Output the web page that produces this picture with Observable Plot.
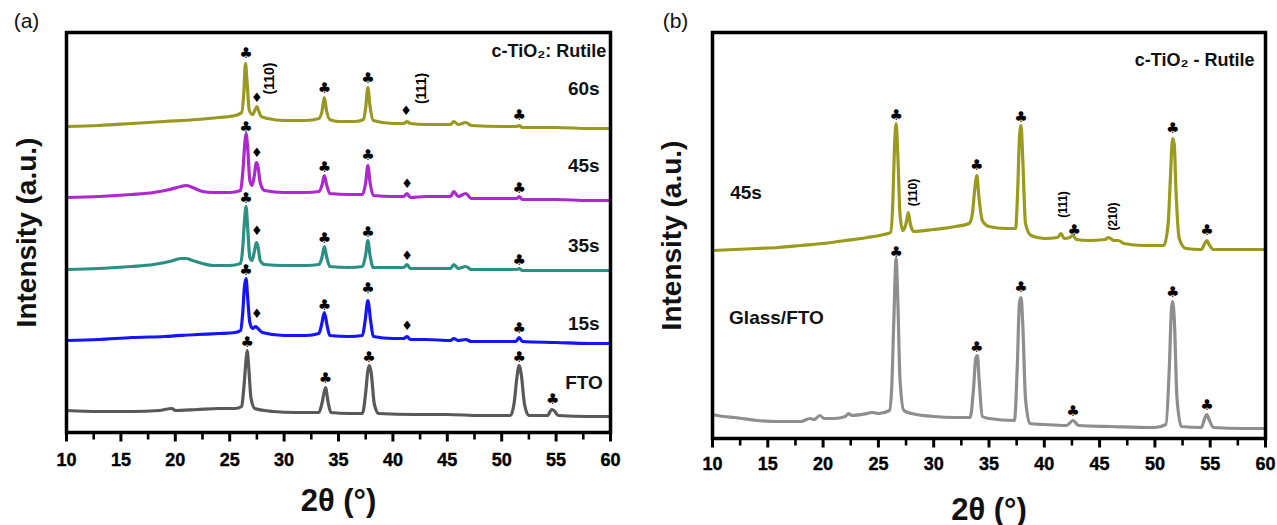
<!DOCTYPE html>
<html><head><meta charset="utf-8">
<script src="https://cdn.jsdelivr.net/npm/d3@7"></script>
<script src="https://cdn.jsdelivr.net/npm/@observablehq/plot@0.6"></script>
<style>
body{margin:0;background:#fff;}
#wrap{position:relative;width:1277px;height:525px;background:#fff;}
.panel{position:absolute;top:0;}
</style></head><body>
<div id="wrap"><div class="panel" id="pa" style="left:0px"></div><div class="panel" id="pb" style="left:640px"></div></div>
<script>
// ---------- Panel (a) data: [2θ, intensity (a.u., stacked)] ----------
const a60 = [[10,306],[13,307],[16,309],[19,311],[22,313],[24,315],[25.5,317],[26.1,320],[26.3,340],[26.45,369],[26.6,350],[26.8,322],[27.1,318],[27.35,323],[27.5,326],[27.65,322],[27.9,316],[28.5,314],[30,312],[32,312],[33.2,314],[33.5,322],[33.7,335],[33.9,322],[34.2,313],[35,311],[36.5,311],[37.3,313],[37.5,325],[37.7,345],[37.9,326],[38.2,312],[40,309],[41.0,309],[41.3,311],[41.6,309],[43,308],[45.3,308],[45.6,311],[46,308],[46.7,310],[47.2,307],[50,306],[51.4,306],[51.6,307],[51.9,305],[55,305],[58,304],[60,304]];
const a45 = [[10,235],[13,236],[16,238],[18,240],[19.5,243],[20.5,246],[21,247],[21.6,245],[22.5,241],[23.5,240],[25,240],[26.0,242],[26.2,260],[26.4,290],[26.5,299],[26.65,285],[26.85,252],[27.05,247],[27.25,256],[27.45,270],[27.6,266],[27.8,250],[28.2,242],[30,240],[32,240],[33.2,241],[33.5,248],[33.7,257],[33.9,248],[34.2,239],[36,238],[37.2,238],[37.5,250],[37.7,267],[37.9,250],[38.2,237],[40,236],[41.0,236],[41.3,239],[41.6,235],[43,236],[45.3,236],[45.6,241],[46.0,236],[46.7,239],[47.2,234],[50,234],[51.4,234],[51.6,236],[51.9,233],[55,233],[58,232],[60,232]];
const a35 = [[10,163],[13,164],[16,166],[18,168],[19.5,171],[20.5,174],[21,174],[21.6,172],[22.5,169],[23.5,167],[25,167],[26.0,169],[26.2,185],[26.35,210],[26.5,226],[26.65,205],[26.85,175],[27.05,172],[27.25,180],[27.45,190],[27.6,186],[27.8,172],[28.2,168],[30,167],[32,167],[33.2,168],[33.5,176],[33.7,186],[33.9,176],[34.2,166],[36,165],[37.2,166],[37.5,178],[37.7,192],[37.9,177],[38.2,165],[40,165],[41.0,165],[41.3,168],[41.6,164],[43,164],[45.3,164],[45.6,168],[46.0,164],[46.7,166],[47.2,163],[50,163],[51.4,163],[51.6,164],[51.9,162],[55,162],[58,162],[60,162]];
const a15 = [[10,92],[13,93],[16,95],[19,96],[22,98],[24,99],[25.5,100],[26.0,102],[26.2,120],[26.35,145],[26.5,154],[26.65,135],[26.85,110],[27.1,104],[27.4,106],[27.6,104],[28,100],[30,97],[32,97],[33.2,99],[33.45,108],[33.7,120],[33.95,107],[34.2,97],[36,96],[37.2,97],[37.45,112],[37.7,132],[37.95,112],[38.2,96],[40,94],[41.0,94],[41.3,96],[41.6,93],[43,93],[45.3,92],[45.6,94],[46,92],[46.7,93],[47.2,91],[50,91],[51.3,91],[51.6,95],[51.9,91],[55,90],[58,89],[60,89]];
const aFTO = [[10,22],[13,21],[16,21],[18.5,22],[19.7,24],[20,22],[22,23],[24,24],[25.5,24],[26.1,26],[26.3,45],[26.5,72],[26.6,82],[26.75,65],[26.95,35],[27.3,24],[29,21],[31,20],[33.2,20],[33.5,30],[33.8,45],[34.05,30],[34.3,20],[36,19],[37.2,19],[37.5,40],[37.7,62],[37.85,67],[38.0,60],[38.3,28],[38.7,19],[42,18],[45,18],[48,17],[50.8,17],[51.15,30],[51.4,55],[51.6,67],[51.8,58],[52.1,28],[52.5,17],[54.2,17],[54.6,23],[54.8,22],[55.2,17],[58,16],[60,16]];
const clubsA = [[26.5,379],[33.7,344],[37.7,354],[51.6,317],[26.5,305],[33.7,265],[37.7,277],[51.6,244],[26.5,234],[33.7,194],[37.7,200],[51.6,172],[26.5,162],[33.7,127],[37.7,144],[51.6,104],[26.6,90],[33.8,54],[37.8,75],[51.6,75],[54.7,33]];
const diamondsA = [[27.5,335],[41.2,322],[27.5,280],[41.3,249],[27.5,202],[41.3,177],[27.5,119],[41.3,107]];
const hklA = [[28.7,354,"(110)"],[42.6,344,"(111)"]];
const sampleLabelsA = [[59,344,"60s"],[59,267,"45s"],[59,187,"35s"],[59,109,"15s"],[59.3,50,"FTO"]];
const titleA = [[59.6,381,"c-TiO₂: Rutile"]];

// ---------- Panel (b) data ----------
const b45 = [[10,188],[12,189],[14,190],[16,191],[18,193],[20,195],[22,198],[24,201],[25.5,204],[26.1,206],[26.3,235],[26.45,290],[26.6,315],[26.75,285],[26.95,225],[27.2,208],[27.5,215],[27.7,226],[27.9,214],[28.2,207],[30,209],[32,212],[33.2,215],[33.5,225],[33.7,248],[33.9,263],[34.1,240],[34.4,218],[35,212],[36.5,210],[37.4,210],[37.6,250],[37.75,300],[37.9,313],[38.05,280],[38.3,215],[38.8,203],[40,200],[41.2,201],[41.5,205],[41.8,200],[42.3,201],[42.6,203],[42.9,199],[44,198],[45.5,199],[45.8,201],[46.3,198],[46.7,198],[47.2,195],[49,193],[50.8,193],[51.2,215],[51.4,260],[51.6,300],[51.75,294],[51.9,250],[52.2,200],[52.8,190],[54.2,189],[54.5,195],[54.7,198],[54.9,194],[55.3,189],[58,189],[60,189]];
const bFTO = [[10,24],[11,22],[12,21],[14,18],[16,17],[18,17],[18.8,20],[19.2,19],[19.7,23],[20.1,20],[21,20],[22,22],[22.3,25],[22.6,23],[23.5,24],[24.5,26],[25,25],[26,28],[26.2,50],[26.4,120],[26.6,180],[26.75,140],[26.95,60],[27.3,28],[28,25],[30,22],[32,21],[33.3,21],[33.6,50],[33.8,80],[33.95,83],[34.1,60],[34.4,22],[35,20],[37.3,18],[37.55,70],[37.75,135],[37.9,141],[38.05,115],[38.3,40],[38.7,15],[40,14],[42,13],[42.6,18],[43.1,13],[46,12],[50,11],[51.0,14],[51.3,70],[51.5,130],[51.6,137],[51.75,120],[52.0,40],[52.4,12],[54.2,11],[54.5,20],[54.7,24],[54.9,19],[55.3,11],[58,10],[60,10]];
const clubsB = [[26.6,323],[33.9,273],[37.9,321],[51.6,310],[42.7,208],[54.7,208],[26.6,186],[33.9,91],[37.9,151],[51.6,146],[42.6,27],[54.7,33]];
const hklB = [[28.1,246,"(110)"],[41.7,234,"(111)"],[46.2,222,"(210)"]];
const sampleLabelsB = [[11.6,246,"45s"],[11.5,121,"Glass/FTO"]];
const titleB = [[59.0,378,"c-TiO₂ - Rutile"]];

const xTicks = [10,15,20,25,30,35,40,45,50,55,60];
const xMinor = [12.5,17.5,22.5,27.5,32.5,37.5,42.5,47.5,52.5,57.5];

const FONT = "'Liberation Sans', Arial, sans-serif";

function panel(opts) {
  const {width, height, ml, mr, mt, mb, ymax, series, clubs, diamonds, hkl, labels, title, letter, letterDx, yDx, xDy, tickDy, hklSize} = opts;
  const marks = [];
  for (const s of series) {
    marks.push(Plot.line(s.data, {x: d => d[0], y: d => d[1], stroke: s.color, strokeWidth: 3.2, curve: "monotone-x"}));
  }
  marks.push(Plot.text(clubs, {x: d => d[0], y: d => d[1], text: () => "♣", fontSize: 15, fill: "black", fontFamily: "'DejaVu Sans', sans-serif", lineAnchor: "middle"}));
  if (diamonds) marks.push(Plot.text(diamonds, {x: d => d[0], y: d => d[1], text: () => "♦", fontSize: 13, fill: "black", fontFamily: "'DejaVu Sans', sans-serif", lineAnchor: "middle"}));
  marks.push(Plot.text(hkl, {x: d => d[0], y: d => d[1], text: d => d[2], rotate: -90, fontSize: hklSize, fill: "black", fontWeight: "bold", lineAnchor: "middle"}));
  marks.push(Plot.text(labels, {x: d => d[0], y: d => d[1], text: d => d[2], fontSize: 19, fontWeight: "bold", fill: "#111", textAnchor: opts.labelAnchor, lineAnchor: "middle"}));
  marks.push(Plot.text(title, {x: d => d[0], y: d => d[1], text: d => d[2], fontSize: 18, fontWeight: "bold", fill: "#111", textAnchor: "end", lineAnchor: "middle"}));
  marks.push(Plot.frame({stroke: "black", strokeWidth: 3.5}));
  // x axis ticks, drawn below the frame through the x and y scales, plus labels
  marks.push(Plot.link(xMinor, {x1: d => d, x2: d => d, y1: -1, y2: -7, stroke: "black", strokeWidth: 2.6}));
  marks.push(Plot.link(xTicks, {x1: d => d, x2: d => d, y1: -1, y2: -9, stroke: "black", strokeWidth: 3}));
  marks.push(Plot.text(xTicks, {x: d => d, frameAnchor: "bottom", dy: tickDy, text: d => String(d), fontSize: 18, fontWeight: "bold", fill: "#000", stroke: "#000", strokeWidth: 0.4, lineAnchor: "middle"}));
  marks.push(Plot.text(["Intensity (a.u.)"], {frameAnchor: "left", rotate: -90, dx: yDx, fontSize: 28, fontWeight: "bold", fill: "#111", textAnchor: "middle", lineAnchor: "middle"}));
  marks.push(Plot.text(["2θ (°)"], {frameAnchor: "bottom", dy: xDy, fontSize: 31, fontWeight: "bold", fill: "#111", textAnchor: "middle", lineAnchor: "middle"}));
  marks.push(Plot.text([letter], {frameAnchor: "top-left", dx: letterDx, dy: -11, fontSize: 21, fontWeight: "normal", fill: "#111", textAnchor: "middle", lineAnchor: "middle"}));
  return Plot.plot({
    width, height,
    marginLeft: ml, marginRight: mr, marginTop: mt, marginBottom: mb,
    x: {domain: [10, 60], axis: null},
    y: {domain: [0, ymax], axis: null},
    style: {fontFamily: FONT, background: "white", overflow: "visible"},
    marks
  });
}

document.getElementById("pa").append(panel({
  width: 640, height: 525, ml: 66, mr: 30, mt: 32, mb: 93, ymax: 400,
  series: [
    {data: a60, color: "#999922"},
    {data: a45, color: "#ad28cf"},
    {data: a35, color: "#2b8f84"},
    {data: a15, color: "#1414ff"},
    {data: aFTO, color: "#595959"}
  ],
  clubs: clubsA, diamonds: diamondsA, hkl: hklA, hklSize: 14,
  labels: sampleLabelsA, labelAnchor: "end", title: titleA,
  letter: "(a)", letterDx: -40, yDx: -39, xDy: 69, tickDy: 28
}));

document.getElementById("pb").append(panel({
  width: 637, height: 525, ml: 72, mr: 12, mt: 32, mb: 87, ymax: 406,
  series: [
    {data: b45, color: "#9a9a1c"},
    {data: bFTO, color: "#8e8e8e"}
  ],
  clubs: clubsB, diamonds: null, hkl: hklB, hklSize: 12,
  labels: sampleLabelsB, labelAnchor: "start", title: titleB,
  letter: "(b)", letterDx: -37, yDx: -40, xDy: 72, tickDy: 26
}));
</script>
</body></html>
